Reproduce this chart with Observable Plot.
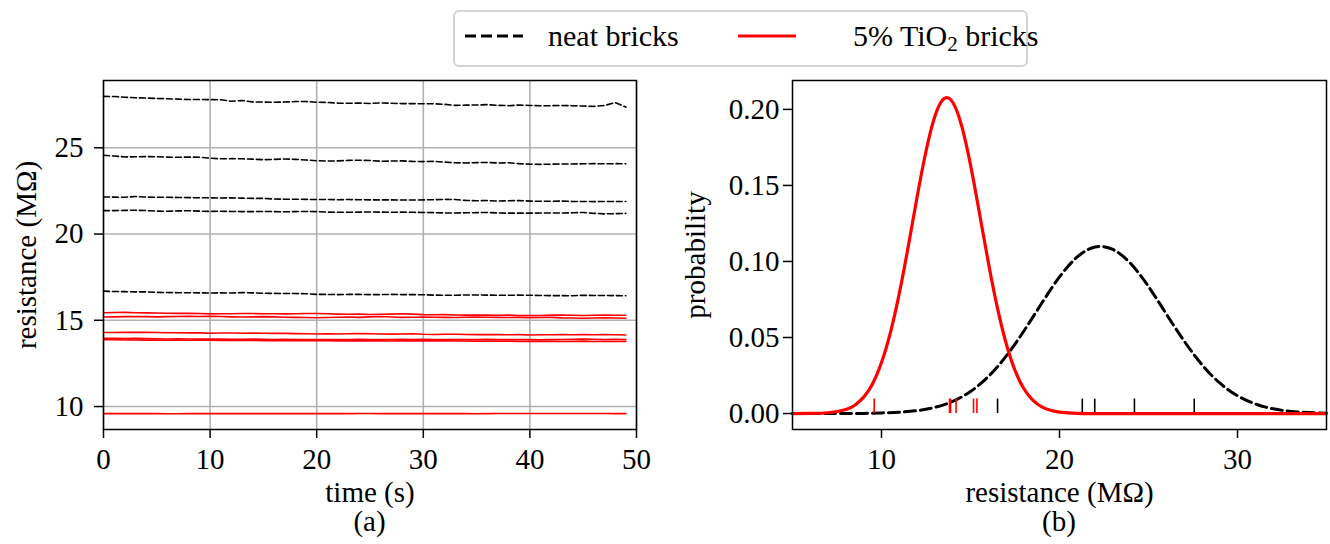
<!DOCTYPE html>
<html>
<head>
<meta charset="utf-8">
<script src="https://cdn.jsdelivr.net/npm/d3@7"></script>
<script src="https://cdn.jsdelivr.net/npm/@observablehq/plot@0.6"></script>
<style>
  html, body { margin: 0; padding: 0; background: #fff; }
  #wrap { position: relative; width: 1330px; height: 544px; font-family: "Liberation Serif", "Times New Roman", serif; color: #000; }
  #wrap > svg { position: absolute; top: 0; }
  #wrap svg text { font-family: "Liberation Serif", "Times New Roman", serif; font-variant: normal; }
  .cap { position: absolute; font-size: 29px; transform: translateX(-50%); white-space: nowrap; line-height: 1; }
  #legend { position: absolute; left: 453px; top: 10px; width: 571px; height: 53px; border: 2px solid #d4d4d4; border-radius: 6px; background: #fff; z-index: 5; font-size: 30px; }
  #legend .t { position: absolute; top: 9px; line-height: 1; white-space: nowrap; }
  #legend svg { position: absolute; top: 0; }
  sub { font-size: 0.7em; vertical-align: -0.25em; line-height: 0; }
</style>
</head>
<body>
<div id="wrap"></div>
<script>
// ---------------- data ----------------
const time = [0,1,2,3,4,5,6,7,8,9,10,11,12,13,14,15,16,17,18,19,20,21,22,23,24,25,26,27,28,29,30,31,32,33,34,35,36,37,38,39,40,41,42,43,44,45,46,47,48,49];

const neat1 = [27.98,27.97,27.93,27.90,27.88,27.86,27.84,27.82,27.80,27.80,
               27.79,27.78,27.70,27.74,27.66,27.65,27.64,27.65,27.68,27.68,
               27.64,27.63,27.59,27.58,27.59,27.57,27.60,27.58,27.56,27.56,
               27.55,27.55,27.52,27.46,27.47,27.48,27.50,27.46,27.44,27.48,
               27.45,27.44,27.44,27.45,27.44,27.42,27.40,27.45,27.62,27.36];
const neat2 = [24.57,24.52,24.47,24.48,24.49,24.48,24.46,24.45,24.46,24.45,
               24.40,24.36,24.37,24.36,24.34,24.31,24.33,24.35,24.33,24.29,
               24.25,24.23,24.24,24.27,24.28,24.26,24.22,24.23,24.24,24.21,
               24.20,24.21,24.17,24.13,24.12,24.14,24.15,24.12,24.13,24.08,
               24.05,24.04,24.05,24.06,24.06,24.07,24.08,24.07,24.08,24.07];
const neat3 = [22.15,22.14,22.13,22.18,22.14,22.13,22.13,22.12,22.11,22.10,
               22.10,22.09,22.10,22.08,22.07,22.07,22.03,22.02,22.02,22.01,
               22.00,22.00,21.99,22.00,21.99,21.98,21.98,21.98,21.97,21.97,
               21.98,21.99,22.01,22.00,21.95,21.93,21.94,21.91,21.93,21.94,
               21.91,21.90,21.90,21.91,21.89,21.89,21.88,21.89,21.89,21.89];
const neat4 = [21.36,21.36,21.37,21.38,21.36,21.33,21.32,21.34,21.35,21.33,
               21.31,21.32,21.31,21.30,21.30,21.31,21.30,21.29,21.30,21.31,
               21.30,21.27,21.26,21.26,21.27,21.28,21.27,21.26,21.27,21.26,
               21.25,21.24,21.22,21.22,21.23,21.24,21.25,21.22,21.21,21.21,
               21.21,21.22,21.22,21.22,21.23,21.25,21.20,21.17,21.18,21.20];
const neat5 = [16.69,16.67,16.66,16.65,16.65,16.62,16.61,16.60,16.60,16.59,
               16.58,16.59,16.58,16.61,16.59,16.57,16.56,16.55,16.55,16.54,
               16.50,16.50,16.49,16.50,16.50,16.49,16.49,16.50,16.49,16.49,
               16.48,16.46,16.45,16.45,16.47,16.47,16.46,16.45,16.45,16.46,
               16.45,16.44,16.43,16.43,16.42,16.45,16.44,16.44,16.43,16.42];

const tio1 = [15.44,15.45,15.46,15.44,15.43,15.42,15.41,15.40,15.40,15.39,
              15.37,15.38,15.38,15.39,15.39,15.38,15.38,15.37,15.38,15.39,
              15.39,15.38,15.36,15.35,15.36,15.34,15.35,15.36,15.38,15.36,
              15.33,15.32,15.33,15.31,15.30,15.30,15.31,15.29,15.30,15.28,
              15.27,15.28,15.30,15.31,15.29,15.28,15.29,15.30,15.29,15.29];
const tio2 = [15.19,15.20,15.21,15.22,15.21,15.20,15.21,15.22,15.23,15.22,
              15.23,15.22,15.20,15.19,15.20,15.21,15.20,15.18,15.17,15.16,
              15.15,15.16,15.18,15.19,15.17,15.20,15.22,15.19,15.17,15.18,
              15.19,15.18,15.17,15.16,15.18,15.19,15.18,15.17,15.16,15.17,
              15.15,15.16,15.17,15.14,15.13,15.12,15.13,15.14,15.13,15.12];
const tio3 = [14.29,14.29,14.30,14.31,14.30,14.29,14.28,14.28,14.27,14.27,
              14.25,14.26,14.26,14.25,14.26,14.25,14.24,14.24,14.23,14.22,
              14.21,14.22,14.21,14.22,14.23,14.22,14.21,14.20,14.21,14.22,
              14.19,14.18,14.19,14.19,14.18,14.17,14.18,14.17,14.16,14.17,
              14.15,14.16,14.16,14.17,14.16,14.17,14.16,14.17,14.16,14.15];
const tio4 = [13.96,13.95,13.94,13.95,13.94,13.93,13.92,13.93,13.92,13.91,
              13.92,13.91,13.90,13.90,13.91,13.90,13.89,13.90,13.89,13.89,
              13.88,13.89,13.88,13.89,13.90,13.89,13.88,13.89,13.90,13.89,
              13.90,13.89,13.88,13.89,13.88,13.89,13.90,13.89,13.88,13.89,
              13.88,13.87,13.88,13.89,13.90,13.91,13.90,13.89,13.90,13.88];
const tio5 = [13.88,13.87,13.86,13.86,13.85,13.85,13.84,13.85,13.84,13.84,
              13.84,13.83,13.84,13.83,13.83,13.82,13.83,13.82,13.82,13.83,
              13.82,13.82,13.81,13.81,13.82,13.81,13.81,13.80,13.81,13.81,
              13.82,13.81,13.81,13.80,13.80,13.79,13.80,13.79,13.79,13.78,
              13.78,13.79,13.78,13.77,13.78,13.79,13.77,13.78,13.77,13.77];
const tio6 = [9.59,9.59,9.59,9.59,9.59,9.59,9.58,9.58,9.59,9.59,
              9.59,9.59,9.59,9.59,9.59,9.59,9.59,9.59,9.59,9.59,
              9.59,9.59,9.59,9.59,9.60,9.60,9.59,9.59,9.59,9.59,
              9.59,9.59,9.59,9.59,9.59,9.58,9.59,9.60,9.60,9.60,
              9.60,9.60,9.60,9.60,9.60,9.60,9.60,9.60,9.59,9.59];

// probability curves
const resNeat = [5,6,7,8,9,10,11,12,13,14,15,16,17,18,19,20,21,22,23,24,25,26,27,28,29,30,31,32,33,34,35];
const probNeat = [0.0000,0.0000,0.0000,0.0001,0.0001,0.0004,0.0009,0.0019,0.0041,0.0080,0.0145,0.0243,0.0377,0.0543,0.0725,0.0898,
                  0.1030,0.1095,0.1079,0.0986,0.0835,0.0655,0.0477,0.0322,0.0201,0.0117,0.0063,0.0031,0.0014,0.0006,0.0002];
const resTio = [5,6,7,8,8.5,9,9.5,10,10.5,11,11.5,12,12.5,13,13.5,14,14.5,15,15.5,16,16.5,17,17.5,18,18.5,19,19.5,20,21,22,24,26,28,30,32,35];
const probTio = [0.0000,0.0001,0.0005,0.0027,0.0055,0.0108,0.0196,0.0335,0.0532,0.0790,0.1097,0.1424,0.1725,0.1955,0.2070,0.2047,0.1893,0.1635,0.1320,0.0995,
                 0.0701,0.0462,0.0284,0.0163,0.0088,0.0044,0.0021,0.0009,0.0001,0.0000,0.0000,0.0000,0.0000,0.0000,0.0000,0.0000];

// individual brick means (rug ticks)
const rugNeat = [16.52, 21.28, 21.98, 24.21, 27.57];
const rugTio = [9.59, 13.82, 13.88, 14.19, 15.17, 15.36];

const neatSeries = [neat1, neat2, neat3, neat4, neat5];
const tioSeries = [tio1, tio2, tio3, tio4, tio5, tio6];

const leftTicksX = [0,10,20,30,40,50];
const leftTicksY = [10,15,20,25];
const rightTicksX = [10,20,30];
const rightTicksY = [0,0.05,0.10,0.15,0.20];

// ---------------- build tables ----------------
const longRows = (series, group) => series.flatMap((vals, k) => vals.map((v, i) => ({t: time[i], r: v, id: group + k})));
const neatRows = longRows(neatSeries, "n");
const tioRows = longRows(tioSeries, "t");
const neatCurve = resNeat.map((x, i) => ({x, p: probNeat[i]}));
const tioCurve = resTio.map((x, i) => ({x, p: probTio[i]}));

const FONT = '"Liberation Serif", "Times New Roman", serif';
const baseStyle = {fontFamily: FONT, fontSize: "29px", color: "#000", background: "transparent", overflow: "visible"};
const axisText = {fontFamily: FONT, fontVariant: "normal"};

const wrap = document.getElementById("wrap");

// ---------------- panel (a) ----------------
const plotA = Plot.plot({
  width: 660, height: 544,
  marginLeft: 103, marginRight: 24, marginTop: 80, marginBottom: 115,
  style: baseStyle,
  x: {domain: [0, 50]},
  y: {domain: [8.67, 28.9]},
  marks: [
    Plot.gridX(leftTicksX, {stroke: "#b0b0b0", strokeOpacity: 1, strokeWidth: 1.6}),
    Plot.gridY(leftTicksY, {stroke: "#b0b0b0", strokeOpacity: 1, strokeWidth: 1.6}),
    Plot.line(neatRows, {x: "t", y: "r", z: "id", stroke: "#000", strokeWidth: 1.6, strokeDasharray: "6,3"}),
    Plot.line(tioRows, {x: "t", y: "r", z: "id", stroke: "#ff0000", strokeWidth: 1.6}),
    Plot.frame({stroke: "#000", strokeWidth: 1.5}),
    Plot.axisX(leftTicksX, {...axisText, tickSize: 9, tickPadding: 10, strokeWidth: 1.5, label: "time (s)", labelArrow: "none", labelAnchor: "center", labelOffset: 72}),
    Plot.axisY(leftTicksY, {...axisText, tickSize: 9, tickPadding: 11, strokeWidth: 1.5, label: "resistance (MΩ)", labelArrow: "none", labelAnchor: "center", labelOffset: 88})
  ]
});
plotA.style.left = "0px";
wrap.appendChild(plotA);

// ---------------- panel (b) ----------------
const plotB = Plot.plot({
  width: 670, height: 544,
  marginLeft: 132, marginRight: 4, marginTop: 80, marginBottom: 115,
  style: baseStyle,
  x: {domain: [5, 35]},
  y: {domain: [-0.0105, 0.219]},
  marks: [
    Plot.line(neatCurve, {x: "x", y: "p", stroke: "#000", strokeWidth: 3, strokeDasharray: "11,5", curve: "natural"}),
    Plot.ruleX(rugNeat, {x: d => d, y1: 0, y2: 0.0095, stroke: "#000", strokeWidth: 1.6}),
    Plot.ruleX(rugTio, {x: d => d, y1: 0, y2: 0.0095, stroke: "#ff0000", strokeWidth: 1.6}),
    Plot.line(tioCurve, {x: "x", y: "p", stroke: "#ff0000", strokeWidth: 3.2, curve: "natural"}),
    Plot.frame({stroke: "#000", strokeWidth: 1.5}),
    Plot.axisX(rightTicksX, {...axisText, tickSize: 9, tickPadding: 10, strokeWidth: 1.5, label: "resistance (MΩ)", labelArrow: "none", labelAnchor: "center", labelOffset: 72}),
    Plot.axisY(rightTicksY, {...axisText, tickSize: 9, tickPadding: 4, strokeWidth: 1.5, tickFormat: d3.format(".2f"), label: "probability", labelArrow: "none", labelAnchor: "center", labelOffset: 108})
  ]
});
plotB.style.left = "660px";
wrap.appendChild(plotB);

// ---------------- captions ----------------
function cap(text, x, y) {
  const d = document.createElement("div");
  d.className = "cap";
  d.textContent = text;
  d.style.left = x + "px";
  d.style.top = y + "px";
  wrap.appendChild(d);
}
cap("(a)", 369.5, 507);
cap("(b)", 1059, 507);

// ---------------- legend ----------------
const legend = document.createElement("div");
legend.id = "legend";
legend.innerHTML = `
  <svg width="70" height="52" style="left:8px"><line x1="2" x2="60" y1="24" y2="24" stroke="#000" stroke-width="3" stroke-dasharray="11,5"/></svg>
  <span class="t" style="left:93px">neat bricks</span>
  <svg width="70" height="52" style="left:281px"><line x1="2" x2="60" y1="24" y2="24" stroke="#ff0000" stroke-width="3.2"/></svg>
  <span class="t" style="left:398px">5% TiO<sub>2</sub> bricks</span>`;
wrap.appendChild(legend);
</script>
</body>
</html>
